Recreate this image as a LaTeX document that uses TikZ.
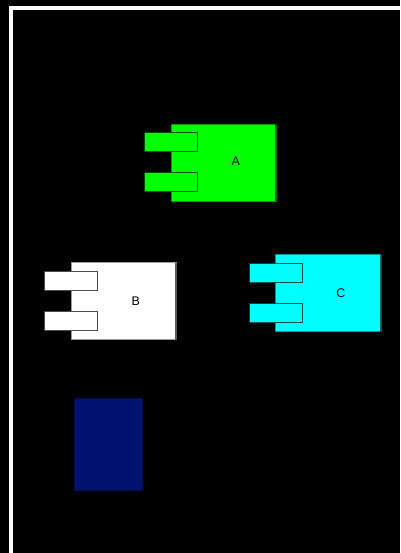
\documentclass[tikz,border=0pt]{standalone}
\usepackage{fontspec}
\setmainfont{Liberation Sans}
\usetikzlibrary{positioning}
\definecolor{bg}{HTML}{000000}
\definecolor{frame}{HTML}{FFFFFF}
\definecolor{cgreen}{HTML}{00FF00}
\definecolor{ccyan}{HTML}{00FFFF}
\definecolor{cwhite}{HTML}{FFFFFF}
\definecolor{cnavy}{HTML}{001270}

\begin{document}
\begin{tikzpicture}[
  x=1pt, y=-1pt,
  comp/.style={draw=#1!60!black, fill=#1, line width=0.5pt, minimum width=105pt, minimum height=77pt, inner sep=0pt, outer sep=0pt},
  edge/.style={draw=#1!35!black, line width=1.6pt},
  port/.style={draw=#1!30!black, fill=#1, line width=0.8pt, minimum width=52.5pt, minimum height=19pt, inner sep=0pt, outer sep=0pt},
  lbl/.style={font=\fontsize{12.5}{14}\selectfont, text=black, inner sep=0pt},
]
\useasboundingbox (0,0) rectangle (400,553);
\fill[bg] (0,0) rectangle (400,553);
\draw[frame, line width=3.6pt] (11,8) rectangle (430,590);

% component A
\node[comp=cgreen] (A) at (223.4,162.5) {};
\draw[edge=cgreen] (A.north east) -- (A.south east);
\node[port=cgreen] (A1) at (170.9,142.2) {};
\node[port=cgreen] (A2) at (170.9,182) {};
\node[lbl] (Alabel) at (235.8,161.7) {A};

% component B
\node[comp=cwhite] (B) at (123.5,301) {};
\draw[edge=cwhite] (B.north east) -- (B.south east);
\node[port=cwhite] (B1) at (71,281.3) {};
\node[port=cwhite] (B2) at (71,321) {};
\node[lbl] (Blabel) at (135.8,300.7) {B};

% component C
\node[comp=ccyan] (C) at (328.2,293) {};
\draw[edge=ccyan] (C.north east) -- (C.south east);
\node[port=ccyan] (C1) at (275.7,273.3) {};
\node[port=ccyan] (C2) at (275.7,312.5) {};
\node[lbl] (Clabel) at (341,293) {C};

% plain box
\node[fill=cnavy, draw=cnavy!70!black, line width=0.6pt, minimum width=67.6pt, minimum height=91.7pt, inner sep=0pt] (D) at (108.5,444.2) {};

\end{tikzpicture}
\end{document}
